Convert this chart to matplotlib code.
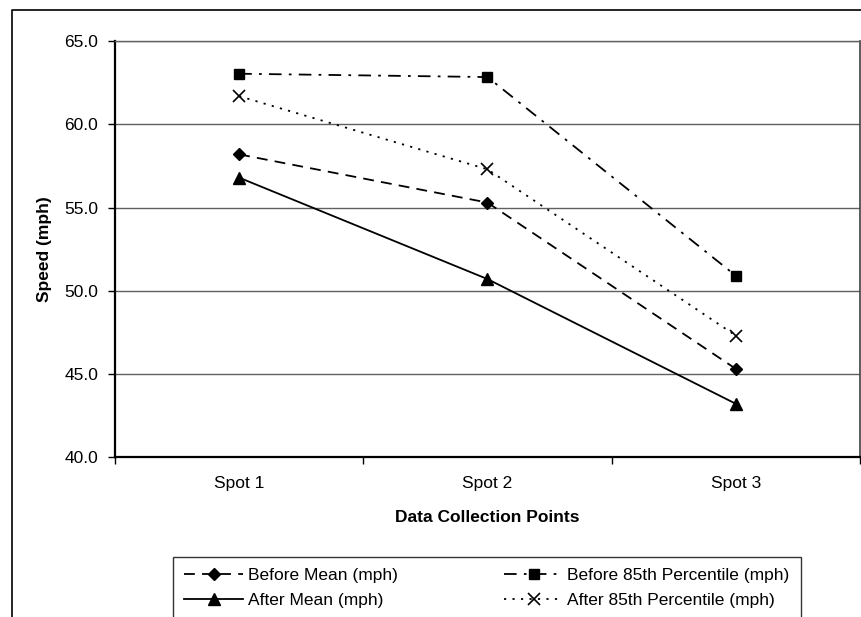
import matplotlib
matplotlib.use('Agg')
import matplotlib.pyplot as plt
from matplotlib.lines import Line2D
import numpy as np

plt.rcParams['font.family'] = ['Liberation Sans', 'DejaVu Sans']

spots = ['Spot 1', 'Spot 2', 'Spot 3']
before_mean = [58.2, 55.3, 45.3]
before_85th = [63.05, 62.85, 50.9]
after_mean = [56.8, 50.7, 43.2]
after_85th = [61.7, 57.3, 47.3]
y_ticks = [40.0, 45.0, 50.0, 55.0, 60.0, 65.0]

fig = plt.figure(figsize=(8.62, 6.17), dpi=100)
ax = fig.add_axes([115 / 862, 1 - 457 / 617, 745 / 862, 415.7 / 617])

x = np.arange(len(spots))
lw = 1.3
h1, = ax.plot(x, before_mean, color='black', lw=lw, linestyle=(0, (6, 4)),
              marker='D', ms=6, label='Before Mean (mph)')
h2, = ax.plot(x, before_85th, color='black', lw=lw, linestyle=(0, (7, 4, 1.5, 4)),
              marker='s', ms=7, label='Before 85th Percentile (mph)')
h3, = ax.plot(x, after_mean, color='black', lw=lw, linestyle='-',
              marker='^', ms=8, label='After Mean (mph)')
h4, = ax.plot(x, after_85th, color='black', lw=lw, linestyle=(0, (1.2, 3.5)),
              marker='x', ms=8, mew=1.2, label='After 85th Percentile (mph)')

ax.set_xlim(-0.5, 2.5)
ax.set_ylim(40, 65)
ax.set_yticks(y_ticks)
ax.set_yticklabels(['%.1f' % v for v in y_ticks])
ax.yaxis.grid(True, color='#606060', lw=1.0)
ax.set_axisbelow(True)

# category boundary ticks, labels in the middle
ax.set_xticks([-0.5, 0.5, 1.5, 2.5])
ax.set_xticklabels([])
ax.set_xticks(x, minor=True)
ax.set_xticklabels(spots, minor=True)
ax.tick_params(axis='x', which='major', length=5, width=1, color='black', direction='out')
ax.tick_params(axis='x', which='minor', length=0, pad=14, labelsize=12.5)
ax.tick_params(axis='y', length=5, width=1, pad=7, labelsize=12.5)

for s in ['left', 'bottom']:
    ax.spines[s].set_linewidth(1.6)
    ax.spines[s].set_color('black')
ax.spines['top'].set_color('#606060')
ax.spines['top'].set_linewidth(1.0)
ax.spines['right'].set_color('#404040')
ax.spines['right'].set_linewidth(1.2)

ax.set_ylabel('Speed (mph)', fontsize=12.5, fontweight='bold', labelpad=9)
ax.set_xlabel('Data Collection Points', fontsize=12.5, fontweight='bold', labelpad=13)

leg_h = 0.05
leg = fig.legend([h1, h3, h2, h4], [h.get_label() for h in [h1, h3, h2, h4]],
                 loc='upper left', ncol=2, mode='expand',
                 bbox_to_anchor=(173 / 862, 1 - 557 / 617 - leg_h, 628 / 862, leg_h),
                 fontsize=12.5, frameon=True, fancybox=False, handlelength=3.4,
                 handletextpad=0.25, borderpad=0.65, labelspacing=0.55,
                 columnspacing=1.0, borderaxespad=0)
leg.get_frame().set_edgecolor('black')
leg.get_frame().set_linewidth(1.0)

# outer chart border (cut off on right/bottom)
fig.add_artist(Line2D([12 / 862, 12 / 862, 1.0], [0, 1 - 10 / 617, 1 - 10 / 617],
                      transform=fig.transFigure, color='black', lw=1.2))

fig.savefig('out.png', dpi=100)
